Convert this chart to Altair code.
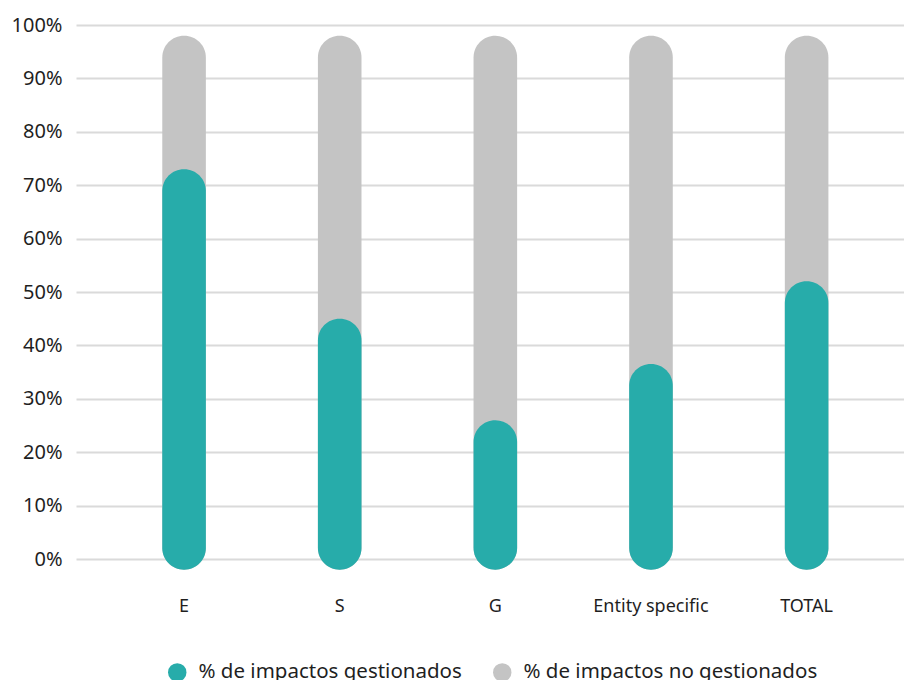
import altair as alt
import pandas as pd

# Categorías y porcentajes de impactos
categorias = ["E", "S", "G", "Entity specific", "TOTAL"]
gestionados = [75, 47, 28, 38.5, 54]
no_gestionados = [25, 53, 72, 61.5, 46]

serie_g = "% de impactos gestionados"
serie_ng = "% de impactos no gestionados"

filas = []
# Barra gris de fondo: la suma completa (gestionados + no gestionados)
for c, g, ng in zip(categorias, gestionados, no_gestionados):
    filas.append({"categoria": c, "serie": serie_ng, "inicio": 0, "fin": g + ng})
# Barra verde: impactos gestionados
for c, g in zip(categorias, gestionados):
    filas.append({"categoria": c, "serie": serie_g, "inicio": 0, "fin": g})
df = pd.DataFrame(filas)

FONT = "Noto Sans"
TEXT = "#1f1f1f"

color = alt.Color(
    "serie:N",
    scale=alt.Scale(domain=[serie_g, serie_ng], range=["#27ACAA", "#C4C4C4"]),
    legend=alt.Legend(
        title=None,
        orient="none",
        direction="horizontal",
        legendX=91,
        legendY=637,
        symbolType="circle",
        symbolSize=340,
        symbolStrokeWidth=0,
        labelFontSize=20.5,
        labelFont=FONT,
        labelColor=TEXT,
        labelOffset=11,
        columnPadding=30,
        padding=0,
        labelLimit=400,
    ),
)

x = alt.X(
    "categoria:N",
    sort=categorias,
    title=None,
    scale=alt.Scale(paddingInner=0.72, paddingOuter=0.52, align=0.533),
    axis=alt.Axis(
        labelAngle=0,
        labelFontSize=18,
        labelFont=FONT,
        labelColor=TEXT,
        labelPadding=38,
        domain=False,
        ticks=False,
        grid=False,
    ),
)

y = alt.Y(
    "fin:Q",
    stack=None,
    title=None,
    scale=alt.Scale(domain=[0, 100], nice=False),
    axis=alt.Axis(
        values=list(range(0, 101, 10)),
        labelExpr="datum.value + '%'",
        labelFontSize=20,
        labelFont=FONT,
        labelColor=TEXT,
        labelPadding=14,
        domain=False,
        ticks=False,
        grid=True,
        gridColor="#dadada",
        gridWidth=2,
    ),
)
y2 = alt.Y2("inicio:Q")

# Barras con extremos redondeados, desplazadas ligeramente hacia abajo
barra = dict(cornerRadius=21.7, yOffset=10.7, y2Offset=10.7)

fondo = (
    alt.Chart(df)
    .transform_filter(alt.datum.serie == serie_ng)
    .mark_bar(**barra)
    .encode(x=x, y=y, y2=y2, color=color)
)
frente = (
    alt.Chart(df)
    .transform_filter(alt.datum.serie == serie_g)
    .mark_bar(**barra)
    .encode(x=x, y=y, y2=y2, color=color)
)

chart = (
    alt.layer(fondo, frente)
    .properties(
        width=828,
        height=534,
        autosize=alt.AutoSizeParams(type="none"),
        padding={"left": 76, "top": 25, "right": 0, "bottom": 121},
        background="white",
    )
    .configure_view(stroke=None)
)

chart.save("out.html", embed_options={"renderer": "svg", "actions": False})
